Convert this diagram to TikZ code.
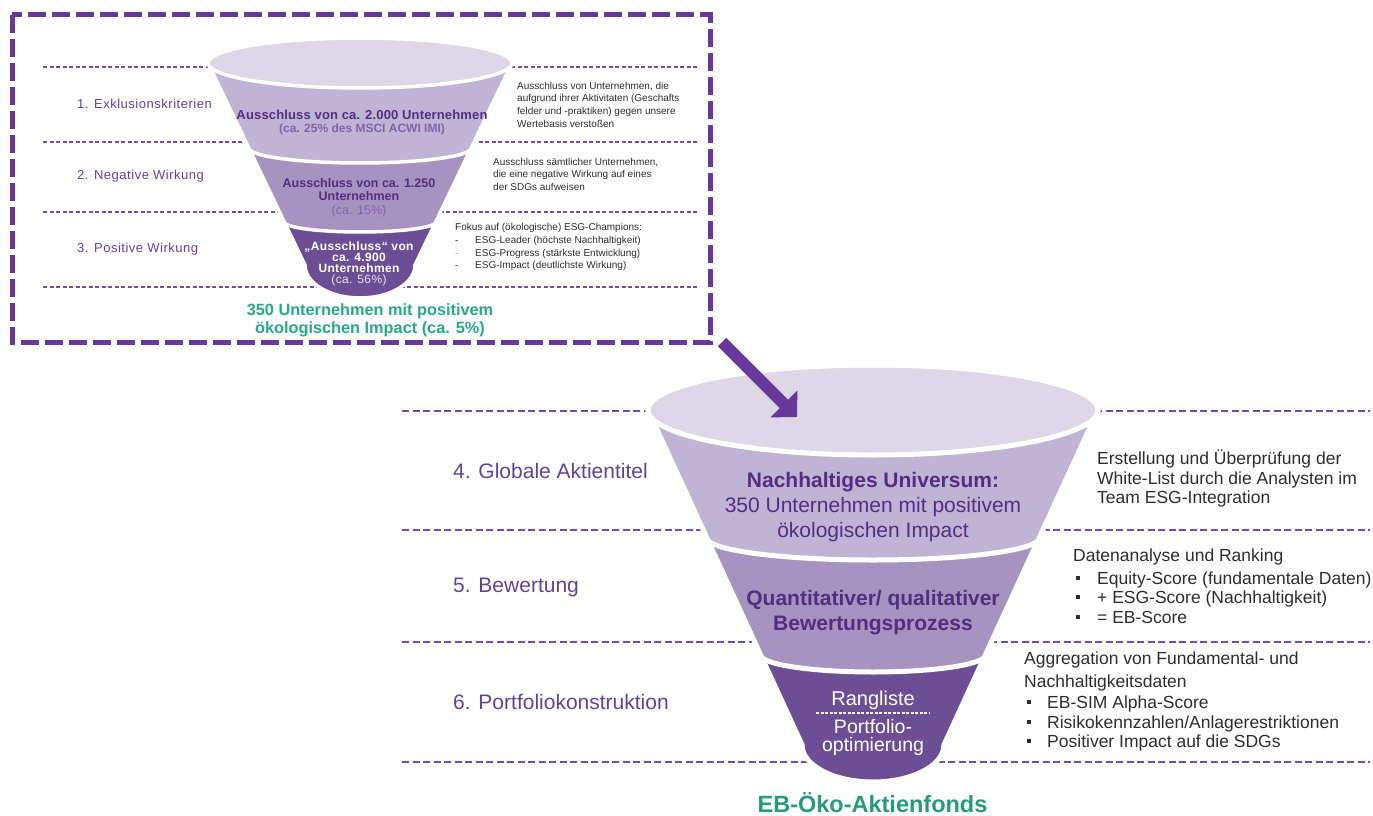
\documentclass[tikz,border=0pt]{standalone}
\usepackage{fontspec}
\setmainfont{Liberation Sans}
\usetikzlibrary{arrows.meta}

\definecolor{framepurple}{RGB}{104,56,156}
\definecolor{guidepurple}{RGB}{112,78,166}
\definecolor{labelpurple}{RGB}{98,66,150}
\definecolor{textpurple}{RGB}{82,46,128}
\definecolor{softpurple}{RGB}{128,100,168}
\definecolor{funnelrim}{RGB}{221,215,231}
\definecolor{funnelA}{RGB}{192,180,212}
\definecolor{funnelB}{RGB}{166,147,192}
\definecolor{funnelC}{RGB}{108,78,148}
\definecolor{ecogreen}{RGB}{38,170,130}
\definecolor{bodygray}{RGB}{45,45,45}

\newcommand\fsz[1]{\fontsize{#1}{#1}\selectfont}
\newcommand\track[1]{\addfontfeatures{LetterSpace=#1}}

\tikzset{
  guidetop/.style={draw=guidepurple, line width=1.4pt, dash pattern=on 4pt off 2.5pt},
  guidebot/.style={draw=guidepurple, line width=2.4pt, dash pattern=on 7pt off 3.5pt},
  frame/.style={draw=framepurple, line width=5pt, dash pattern=on 18pt off 6pt},
  segsmall/.style={draw=white, line width=3.5pt},
  segbig/.style={draw=white, line width=5pt},
  lw/.style={inner sep=0pt, anchor=base west},
  lc/.style={inner sep=0pt, anchor=base},
  bullet/.style={fill=bodygray, inner sep=0pt, minimum size=4.5pt, shape=rectangle},
}

\begin{document}
\begin{tikzpicture}[x=1pt,y=1pt]
\useasboundingbox (0,0) rectangle (1373,-816);

% ---------- upper panel: guide lines ----------
\foreach \yy in {67,142,212,287}
  \draw[guidetop] (43,-\yy) -- (697,-\yy);

% ---------- upper funnel (drawn from the tip upwards) ----------
\path[segsmall, fill=funnelC] (284.3,-222) -- (305,-265)
  arc[start angle=180, end angle=360, x radius=55, y radius=33]
  -- (435.7,-222) -- cycle;
\path[segsmall, fill=funnelB] (248.8,-148) -- (284.3,-222)
  arc[start angle=180, end angle=360, x radius=75.7, y radius=10]
  -- (471.2,-148) -- cycle;
\path[segsmall, fill=funnelA] (208,-63) -- (248.8,-148)
  arc[start angle=180, end angle=360, x radius=111.2, y radius=15]
  -- (512,-63) -- cycle;
\path[segsmall, fill=funnelrim] (360,-63) ellipse[x radius=152, y radius=25];

% texts inside the upper funnel
\node[lc, font=\fsz{13}\bfseries\track{1.2}, text=textpurple] (ua1) at (362,-119.6) {Ausschluss von ca. 2.000 Unternehmen};
\node[lc, font=\fsz{12}\bfseries, text=softpurple] (ua2) at (362,-132.3) {(ca. 25\% des MSCI ACWI IMI)};
\node[lc, font=\fsz{12.5}\bfseries, text=textpurple] (ub1) at (359,-187.5) {Ausschluss von ca. 1.250};
\node[lc, font=\fsz{12.5}\bfseries, text=textpurple] (ub2) at (359,-200.5) {Unternehmen};
\node[lc, font=\fsz{12.5}, text=softpurple] (ub3) at (359,-214.5) {(ca. 15\%)};
\node[lc, font=\fsz{12}\bfseries\track{3}, text=white] (uc1) at (359,-250.3) {„Ausschluss“ von};
\node[lc, font=\fsz{12}\bfseries\track{3}, text=white] (uc2) at (359,-261.3) {ca. 4.900};
\node[lc, font=\fsz{12}\bfseries\track{3}, text=white] (uc3) at (359,-272.3) {Unternehmen};
\node[lc, font=\fsz{12}\track{3}, text=white!85!funnelC] (uc4) at (359,-283.8) {(ca. 56\%)};

\node[lc, font=\fsz{16.3}\bfseries, text=ecogreen] (ug1) at (370,-315.5) {350 Unternehmen mit positivem};
\node[lc, font=\fsz{16.3}\bfseries, text=ecogreen] (ug2) at (370,-333) {ökologischen Impact (ca. 5\%)};

% step labels, upper panel
\node[lw, font=\fsz{13}\track{4}, text=labelpurple] (s1) at (77,-108.7) {1. Exklusionskriterien};
\node[lw, font=\fsz{13}\track{4}, text=labelpurple] (s2) at (77,-179.7) {2. Negative Wirkung};
\node[lw, font=\fsz{13}\track{4}, text=labelpurple] (s3) at (77,-252.7) {3. Positive Wirkung};

% descriptions, upper panel
\begin{scope}[every node/.style={lw, font=\fsz{10}, text=bodygray}]
\node (d11) at (517,-89)    {Ausschluss von Unternehmen, die};
\node (d12) at (517,-101.7) {aufgrund ihrer Aktivitaten (Geschafts};
\node (d13) at (517,-114.4) {felder und -praktiken) gegen unsere};
\node (d14) at (517,-127.1) {Wertebasis verstoßen};
\node (d21) at (493,-165)   {Ausschluss sämtlicher Unternehmen,};
\node (d22) at (493,-177.5) {die eine negative Wirkung auf eines};
\node (d23) at (493,-190)   {der SDGs aufweisen};
\node (d31) at (455,-230.5) {Fokus auf (ökologische) ESG-Champions:};
\node (d32m) at (455,-243.3) {-};
\node (d32) at (475,-243.3) {ESG-Leader (höchste Nachhaltigkeit)};
\node[text=bodygray!45] (d33m) at (455,-256.1) {-};
\node (d33) at (475,-256.1) {ESG-Progress (stärkste Entwicklung)};
\node (d34m) at (455,-268.9) {-};
\node (d34) at (475,-268.9) {ESG-Impact (deutlichste Wirkung)};
\end{scope}

% dashed frame round the upper panel
\draw[frame] (12,-15) rectangle (710,-342);

% ---------- lower panel: guide lines ----------
\foreach \yy in {411,530,642,762}
  \draw[guidebot] (402,-\yy) -- (1370,-\yy);

% ---------- lower funnel ----------
\path[segbig, fill=funnelC] (760.7,-655) -- (802.1,-745)
  arc[start angle=180, end angle=360, x radius=70.9, y radius=37]
  -- (985.3,-655) -- cycle;
\path[segbig, fill=funnelB] (706.9,-538) -- (760.7,-655)
  arc[start angle=180, end angle=360, x radius=112.3, y radius=17]
  -- (1039.1,-538) -- cycle;
\path[segbig, fill=funnelA] (648,-410) -- (706.9,-538)
  arc[start angle=180, end angle=360, x radius=166.1, y radius=22]
  -- (1098,-410) -- cycle;
\path[segbig, fill=funnelrim] (873,-410) ellipse[x radius=225, y radius=45];

% texts inside the lower funnel
\node[lc, font=\fsz{21}\bfseries, text=textpurple] (la1) at (873,-487.5) {Nachhaltiges Universum:};
\node[lc, font=\fsz{21}, text=textpurple] (la2) at (873,-512.5) {350 Unternehmen mit positivem};
\node[lc, font=\fsz{21}, text=textpurple] (la3) at (873,-537.5) {ökologischen Impact};
\node[lc, font=\fsz{21}\bfseries, text=textpurple] (lb1) at (873,-605.5) {Quantitativer/ qualitativer};
\node[lc, font=\fsz{21}\bfseries, text=textpurple] (lb2) at (873,-630.5) {Bewertungsprozess};
\node[lc, font=\fsz{20}, text=white] (lc1) at (873,-705) {Rangliste};
\coordinate (sepL) at (816,-713);
\coordinate (sepR) at (930,-713);
\draw[white, line width=1.2pt, dash pattern=on 3pt off 1.5pt] (sepL) -- (sepR);
\node[lc, font=\fsz{19.5}, text=white] (lc2) at (873,-733.5) {Portfolio-};
\node[lc, font=\fsz{19.5}, text=white] (lc3) at (873,-751.5) {optimierung};

\node[lc, font=\fsz{23.5}\bfseries, text=ecogreen!92!black] (fund) at (872.5,-812.5) {EB-Öko-Aktienfonds};

% step labels, lower panel
\node[lw, font=\fsz{21}, text=labelpurple] (s4) at (453,-478.2) {4. Globale Aktientitel};
\node[lw, font=\fsz{21}, text=labelpurple] (s5) at (453,-592.5) {5. Bewertung};
\node[lw, font=\fsz{21}, text=labelpurple] (s6) at (453,-709.2) {6. Portfoliokonstruktion};

% descriptions, lower panel
\begin{scope}[every node/.style={lw, font=\fsz{17.5}, text=bodygray}]
\node (e11) at (1097,-464.5) {Erstellung und Überprüfung der};
\node (e12) at (1097,-484)   {White-List durch die Analysten im};
\node (e13) at (1097,-503.5) {Team ESG-Integration};
\node (e21) at (1073,-561.3) {Datenanalyse und Ranking};
\node (e22) at (1097,-584.3) {Equity-Score (fundamentale Daten)};
\node (e23) at (1097,-603.3) {+ ESG-Score (Nachhaltigkeit)};
\node (e24) at (1097,-623.3) {= EB-Score};
\node (e31) at (1024,-664.3) {Aggregation von Fundamental- und};
\node (e32) at (1024,-687.3) {Nachhaltigkeitsdaten};
\node (e33) at (1047,-708.3) {EB-SIM Alpha-Score};
\node (e34) at (1047,-728.3) {Risikokennzahlen/Anlagerestriktionen};
\node (e35) at (1047,-747.3) {Positiver Impact auf die SDGs};
\end{scope}
\foreach \yy [count=\i] in {578,597,617}
  \node[bullet] (bb\i) at (1078,-\yy) {};
\foreach \yy [count=\i] in {702,722,741}
  \node[bullet] (bc\i) at (1029,-\yy) {};

% ---------- arrow from the upper panel into the lower funnel ----------
\coordinate (arrowfrom) at (722,-342);
\coordinate (arrowto) at (797,-417);
\draw[framepurple, line width=12pt, -{Triangle[length=18.4pt, width=36.8pt]}] (arrowfrom) -- (arrowto);

\end{tikzpicture}
\end{document}
